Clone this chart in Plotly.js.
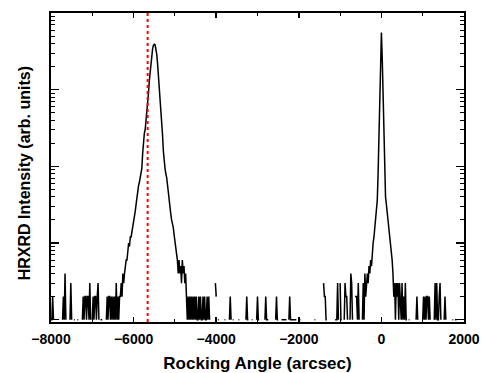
<!DOCTYPE html>
<html>
<head>
<meta charset="utf-8">
<script src="https://cdn.plot.ly/plotly-3.0.1.min.js"></script>
<style>
  html, body { margin: 0; padding: 0; background: #fff; }
  #chart { width: 482px; height: 373px; }
</style>
</head>
<body>
<div id="chart"></div>
<script>
// Scan grid (arcsec): measurement starts at -8000 with a 20 arcsec step
const scanStart = -8000;
const scanStep = 20;

// Counts per 500-arcsec block (25 points each)
const countsA = [ // -8000 .. -6520
  1,1,2,1,0,0,0,0,0,0,0,0,0,0,1,2,1,4,1,0,0,0,0,1,3,
  1,0,0,1,1,0,0,1,1,0,0,0,0,1,2,1,2,2,1,2,2,1,3,1,0,
  1,2,1,2,2,1,2,3,1,0,1,1,1,0,0,0,0,1,2,1,2,2,1,2,1
];
const countsLayerPeak = [ // -6500 .. -4520
  2,1,2,1,3,1,2,1,2,2,3,2,4,3,4,5,6,6,8,10,9,12,12,14,15,
  18,21,26,32,40,48,56,62,72,82,95,150,235,270,300,380,500,650,900,1300,1750,2300,2900,3400,3800,
  3920,3850,3400,2900,2200,1600,1100,800,560,400,260,160,110,95,80,72,58,44,36,30,24,20,18,16,13,
  11,9,8,6,4,6,4,5,3,6,4,5,3,4,2,1,2,1,2,1,2,1,2,1,2
];
const countsMiddle = [ // -4500 .. -520
  1,2,1,1,2,1,2,1,1,2,1,2,1,1,2,1,2,1,0,0,0,0,0,0,3,
  2,0,1,1,0,0,0,0,0,0,1,1,0,0,0,0,1,2,1,0,1,1,0,1,0,
  0,0,1,1,0,0,0,0,0,0,0,1,2,1,1,0,0,0,1,1,0,0,0,0,1,
  2,1,1,0,0,0,0,0,0,1,2,1,1,1,0,0,0,0,0,0,0,0,1,2,1,
  1,0,0,0,1,1,1,1,1,1,1,0,0,1,2,1,1,1,1,1,1,1,1,0,1,
  1,1,1,0,0,0,0,0,0,0,0,0,0,0,0,0,0,0,0,1,1,0,0,0,0,
  0,0,0,0,0,3,2,2,1,1,0,0,0,0,0,0,0,0,0,1,1,1,3,1,0,
  3,1,1,0,0,1,3,2,2,1,0,0,1,4,3,1,0,0,2,2,2,1,3,1,0
];
const countsSubstratePeak = [ // -500 .. 480
  1,0,1,3,1,4,2,3,4,3,5,4,6,5,8,10,12,15,19,24,36,80,300,900,2600,
  5550,2600,900,300,75,40,32,25,20,16,13,11,8,6,4,2,3,1,3,2,3,1,3,2,1
];
const countsRight = [ // 500 .. 2000
  3,1,2,1,3,1,1,0,1,1,0,1,0,0,0,0,0,1,2,1,0,0,0,0,0,
  1,2,1,2,1,2,2,1,2,1,0,0,0,0,1,3,1,3,1,1,2,3,1,0,0,
  0,1,2,1,0,0,0,0,0,0,0,1,1,0,1,1,1,0,0,0,0,0,0,0,0,
  0
];

const markerAngle = -5660; // red dotted reference line (arcsec)

const counts = [].concat(countsA, countsLayerPeak, countsMiddle, countsSubstratePeak, countsRight);
const angles = counts.map((_, i) => scanStart + i * scanStep);
const intensity = counts.map(c => (c > 0 ? c : null));

const fontFam = '"Liberation Sans", Arial, Helvetica, sans-serif';

const trace = {
  x: angles,
  y: intensity,
  type: 'scatter',
  mode: 'lines',
  connectgaps: false,
  line: { color: '#000', width: 1.5 },
  hoverinfo: 'skip'
};

const layout = {
  width: 482,
  height: 373,
  margin: { l: 51, r: 18, t: 13, b: 51 },
  paper_bgcolor: '#fff',
  plot_bgcolor: '#fff',
  showlegend: false,
  font: { family: fontFam, color: '#000' },
  xaxis: {
    range: [-8000, 2000],
    tick0: -8000,
    dtick: 2000,
    ticks: 'inside',
    ticklen: 5,
    tickwidth: 1.5,
    tickcolor: '#000',
    showline: true,
    linewidth: 2,
    linecolor: '#000',
    mirror: 'ticks',
    showgrid: false,
    zeroline: false,
    ticklabelstandoff: 3,
    minor: { dtick: 1000, ticks: 'inside', ticklen: 3, tickwidth: 1, tickcolor: '#000', showgrid: false },
    tickfont: { family: fontFam, size: 14, weight: 'bold', color: '#000' },
    title: { text: 'Rocking Angle (arcsec)', font: { family: fontFam, size: 17, weight: 'bold', color: '#000' }, standoff: 13 }
  },
  yaxis: {
    type: 'log',
    range: [-0.03, 4.0],
    dtick: 1,
    ticks: 'inside',
    ticklen: 8,
    tickwidth: 1.5,
    tickcolor: '#000',
    showticklabels: false,
    showline: true,
    linewidth: 2,
    linecolor: '#000',
    mirror: 'ticks',
    showgrid: false,
    zeroline: false,
    minor: { dtick: 'D1', ticks: 'inside', ticklen: 4, tickwidth: 1, tickcolor: '#000', showgrid: false }
  },
  shapes: [{
    type: 'line',
    xref: 'x', yref: 'paper',
    x0: markerAngle, x1: markerAngle, y0: 0, y1: 1,
    line: { color: '#ff0000', width: 2, dash: 'dot' }
  }],
  annotations: [{
    text: 'HRXRD Intensity (arb. units)',
    xref: 'paper', yref: 'paper',
    x: -0.064, y: 0.48,
    xanchor: 'center', yanchor: 'middle',
    textangle: -90,
    showarrow: false,
    font: { family: fontFam, size: 16, weight: 'bold', color: '#000' }
  }]
};

Plotly.newPlot('chart', [trace], layout, { staticPlot: true, displayModeBar: false });
</script>
</body>
</html>
